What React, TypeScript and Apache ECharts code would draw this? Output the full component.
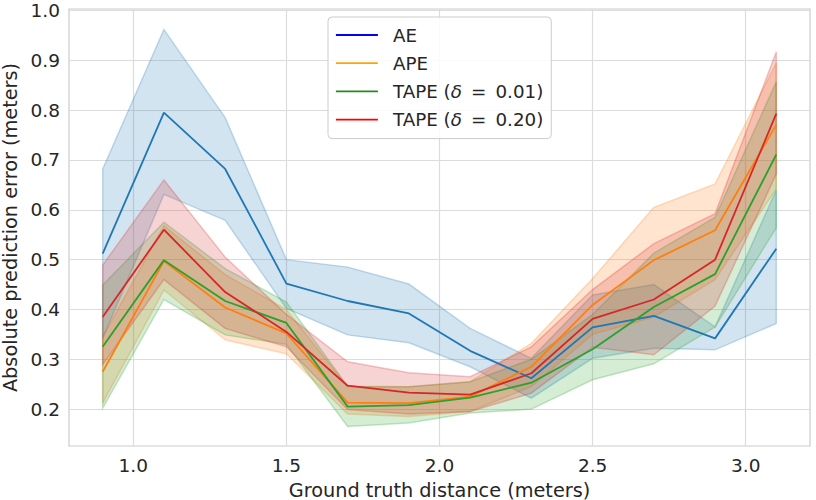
import React, { useEffect, useRef } from "react";
import * as echarts from "echarts";

const xs = [0.9, 1.1, 1.3, 1.5, 1.7, 1.9, 2.1, 2.3, 2.5, 2.7, 2.9, 3.1];
const xTicks = [1.0, 1.5, 2.0, 2.5, 3.0];
const yTicks = [0.2, 0.3, 0.4, 0.5, 0.6, 0.7, 0.8, 0.9, 1.0];

const aeMean = [0.512, 0.795, 0.682, 0.452, 0.417, 0.392, 0.317, 0.262, 0.364, 0.387, 0.342, 0.522];
const aeLo = [0.342, 0.631, 0.579, 0.402, 0.349, 0.333, 0.285, 0.222, 0.302, 0.322, 0.319, 0.372];
const aeHi = [0.682, 0.962, 0.785, 0.5, 0.485, 0.451, 0.362, 0.302, 0.429, 0.45, 0.365, 0.64];

const apeMean = [0.275, 0.497, 0.404, 0.352, 0.213, 0.212, 0.225, 0.285, 0.409, 0.499, 0.559, 0.771];
const apeLo = [0.212, 0.439, 0.339, 0.311, 0.19, 0.185, 0.195, 0.245, 0.35, 0.385, 0.46, 0.642];
const apeHi = [0.345, 0.568, 0.47, 0.4, 0.245, 0.245, 0.255, 0.332, 0.462, 0.605, 0.652, 0.895];

const t01Mean = [0.325, 0.499, 0.417, 0.373, 0.205, 0.208, 0.223, 0.253, 0.32, 0.405, 0.471, 0.711];
const t01Lo = [0.202, 0.42, 0.349, 0.33, 0.165, 0.172, 0.192, 0.2, 0.259, 0.291, 0.365, 0.564];
const t01Hi = [0.449, 0.575, 0.482, 0.415, 0.246, 0.245, 0.255, 0.3, 0.39, 0.513, 0.585, 0.857];

const t20Mean = [0.385, 0.56, 0.435, 0.355, 0.247, 0.233, 0.229, 0.272, 0.381, 0.42, 0.5, 0.793];
const t20Lo = [0.289, 0.46, 0.362, 0.325, 0.199, 0.19, 0.195, 0.232, 0.324, 0.309, 0.407, 0.672];
const t20Hi = [0.489, 0.66, 0.505, 0.39, 0.295, 0.273, 0.265, 0.325, 0.44, 0.532, 0.592, 0.917];

const names = ["AE", "APE", "TAPE (δ = 0.01)", "TAPE (δ = 0.20)"];
const lineColors = ["#1f77b4", "#ff7f0e", "#2ca02c", "#d62728"];
const bandRgb = ["31,119,180", "255,127,14", "44,160,44", "214,39,40"];
const legendColors = ["#0000ff", "#ffa500", "#228b22", "#ff0000"];

const means = [aeMean, apeMean, t01Mean, t20Mean];
const los = [aeLo, apeLo, t01Lo, t20Lo];
const his = [aeHi, apeHi, t01Hi, t20Hi];

const FONT = "DejaVu Sans";
const TEXT = "#262626";
const TICK_FS = 18.5;
const NAME_FS = 19.3;
const LEG_FS = 18.3;

export default function App() {
  const ref = useRef<HTMLDivElement>(null);
  useEffect(() => {
    if (!ref.current) return;
    const chart = echarts.init(ref.current, null, { renderer: "svg" });

    const bandSeries = means.map((_, k) => ({
      type: "custom",
      name: names[k] + " band",
      data: xs.map((x, i) => [x, los[k][i], his[k][i]]),
      encode: { x: 0, y: [1, 2] },
      silent: true,
      z: 1,
      renderItem: (params: any, api: any) => {
        if (params.dataIndex !== 0) return null;
        const pts: number[][] = [];
        for (let i = 0; i < xs.length; i++) pts.push(api.coord([xs[i], his[k][i]]));
        for (let i = xs.length - 1; i >= 0; i--) pts.push(api.coord([xs[i], los[k][i]]));
        return {
          type: "polygon",
          shape: { points: pts },
          style: {
            fill: `rgba(${bandRgb[k]},0.2)`,
            stroke: `rgba(${bandRgb[k]},0.25)`,
            lineWidth: 1.5,
          },
        };
      },
    }));

    const lineSeries = means.map((m, k) => ({
      type: "line",
      name: names[k],
      data: xs.map((x, i) => [x, m[i]]),
      symbol: "none",
      z: 3,
      lineStyle: { color: lineColors[k], width: 1.8 },
      itemStyle: { color: lineColors[k] },
    }));

    chart.setOption({
      animation: false,
      textStyle: { fontFamily: FONT },
      grid: {
        left: 69,
        top: 9,
        width: 741,
        height: 437,
        containLabel: false,
        outerBoundsMode: "none",
        show: true,
        borderColor: "#cccccc",
        borderWidth: 1.2,
        backgroundColor: "transparent",
      },
      legend: {
        orient: "vertical",
        left: 328,
        top: 17,
        padding: [9, 8, 10, 7],
        itemWidth: 42,
        itemHeight: 14,
        itemGap: 10.2,
        backgroundColor: "rgba(255,255,255,0.85)",
        borderColor: "#cccccc",
        borderWidth: 1,
        borderRadius: 4,
        data: names.map((n, k) => ({
          name: n,
          itemStyle: { color: legendColors[k], opacity: 0 },
          lineStyle: { color: legendColors[k], width: 1.8 },
        })),
        formatter: (n: string) => n.replace("δ", "{i|δ}").replace(" = ", "\u2002=\u2002"),
        textStyle: {
          fontFamily: FONT,
          fontSize: LEG_FS,
          color: TEXT,
          padding: [0, 0, 0, 10],
          rich: {
            i: { fontFamily: FONT, fontSize: LEG_FS, fontStyle: "italic", color: TEXT },
          },
        },
      },
      xAxis: {
        type: "value",
        min: 0.79,
        max: 3.21,
        name: "Ground truth distance (meters)",
        nameLocation: "middle",
        nameGap: 34.5,
        nameTextStyle: { fontFamily: FONT, fontSize: NAME_FS, color: TEXT },
        axisLine: { show: false },
        axisTick: { show: false, customValues: xTicks },
        axisLabel: {
          customValues: xTicks,
          fontFamily: FONT,
          fontSize: TICK_FS,
          color: TEXT,
          margin: 10,
          formatter: (v: number) => v.toFixed(1),
        },
        splitLine: { show: true, lineStyle: { color: "#dcdcdc", width: 1.2 } },
      },
      yAxis: {
        type: "value",
        min: 0.126,
        max: 1.003,
        name: "Absolute prediction error (meters)",
        nameLocation: "middle",
        nameGap: 42,
        nameTextStyle: { fontFamily: FONT, fontSize: NAME_FS, color: TEXT },
        axisLine: { show: false },
        axisTick: { show: false, customValues: yTicks },
        axisLabel: {
          customValues: yTicks,
          fontFamily: FONT,
          fontSize: TICK_FS,
          color: TEXT,
          margin: 9,
          formatter: (v: number) => v.toFixed(1),
        },
        splitLine: { show: true, lineStyle: { color: "#dcdcdc", width: 1.2 } },
      },
      series: [...bandSeries, ...lineSeries],
    } as any);

    return () => chart.dispose();
  }, []);

  return (
    <div
      ref={ref}
      style={{ position: "fixed", left: 0, top: 0, width: 816, height: 500, background: "#fff" }}
    />
  );
}
